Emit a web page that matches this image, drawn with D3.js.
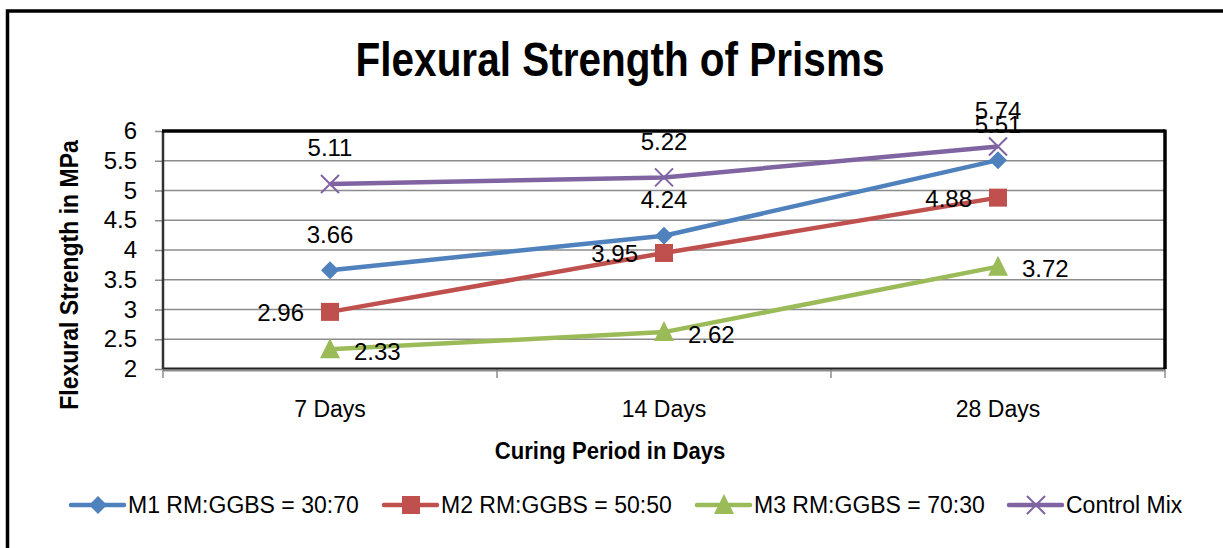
<!DOCTYPE html>
<meta charset="utf-8">
<script src="https://d3js.org/d3.v7.min.js"></script>
<style>
  body { margin: 0; background: #fff; }
  text { font-family: "Liberation Sans", Arial, sans-serif; }
</style>
<div id="my_dataviz"></div>
<script>
    // chart values
    var categories = ["7 Days", "14 Days", "28 Days"];
    var seriesNames = ["M1 RM:GGBS = 30:70", "M2 RM:GGBS = 50:50", "M3 RM:GGBS = 70:30", "Control Mix"];
    var m1 = [3.66, 4.24, 5.51];
    var m2 = [2.96, 3.95, 4.88];
    var m3 = [2.33, 2.62, 3.72];
    var control = [5.11, 5.22, 5.74];
    var yTicks = [2, 2.5, 3, 3.5, 4, 4.5, 5, 5.5, 6];

    var colors = ["#4F81BD", "#C0504D", "#9BBB59", "#8064A2"];
    var symbols = ["diamond", "square", "triangle", "cross"];
    // where each series puts its value label
    var labelPos = ["above", "left", "right", "above"];

    var series = [m1, m2, m3, control].map(function(vals, i) {
      return { name: seriesNames[i], values: vals, color: colors[i], symbol: symbols[i], pos: labelPos[i] };
    });

    var W = 1223, H = 548;
    var margin = {top: 131, right: 58, bottom: 179, left: 163},
        width = W - margin.left - margin.right,
        height = H - margin.top - margin.bottom;

    var root = d3.select("#my_dataviz")
      .append("svg")
        .attr("width", W)
        .attr("height", H);

    // outer frame (right/bottom edges fall outside the picture)
    root.append("rect")
        .attr("x", 7.5).attr("y", 11)
        .attr("width", 1240).attr("height", 560)
        .attr("fill", "none")
        .attr("stroke", "#000")
        .attr("stroke-width", 3.5);

    // title
    root.append("text")
        .attr("transform", "translate(620,76) scale(0.9,1.05)")
        .attr("text-anchor", "middle")
        .style("font-size", "45px")
        .style("font-weight", "bold")
        .text("Flexural Strength of Prisms");

    var svg = root.append("g")
        .attr("transform", "translate(" + margin.left + "," + margin.top + ")");

    var x = d3.scaleBand()
      .domain(categories)
      .range([0, width]);

    var y = d3.scaleLinear()
      .domain([2, 6])
      .range([height, 0]);

    // gridlines
    svg.append("g")
      .selectAll("line")
      .data(yTicks.slice(1, -1))
      .enter()
      .append("line")
        .attr("x1", 0).attr("x2", width)
        .attr("y1", function(d) { return y(d); })
        .attr("y2", function(d) { return y(d); })
        .attr("stroke", "#8c8c8c")
        .attr("stroke-width", 1.5);

    // y axis
    var yAxis = svg.append("g")
      .call(d3.axisLeft(y).tickValues(yTicks).tickSize(8).tickPadding(18).tickFormat(d3.format("")));
    yAxis.select(".domain").remove();
    yAxis.selectAll(".tick line").attr("stroke", "#8c8c8c").attr("stroke-width", 1.5);
    yAxis.selectAll("text")
      .style("font-size", "24px")
      .attr("fill", "#000")
      .attr("font-family", null);

    // x axis
    var xAxis = svg.append("g")
      .attr("transform", "translate(0," + height + ")")
      .call(d3.axisBottom(x).tickSize(0).tickPadding(32));
    xAxis.select(".domain").remove();
    xAxis.selectAll("text")
      .style("font-size", "23px")
      .attr("fill", "#000")
      .attr("font-family", null);

    // category boundary ticks
    svg.append("g")
      .selectAll("line")
      .data(categories.concat([null]))
      .enter()
      .append("line")
        .attr("x1", function(d) { return d === null ? width : x(d); })
        .attr("x2", function(d) { return d === null ? width : x(d); })
        .attr("y1", height).attr("y2", height + 9)
        .attr("stroke", "#8c8c8c")
        .attr("stroke-width", 1.5);

    // plot borders
    svg.append("line")
      .attr("x1", 0).attr("x2", width).attr("y1", height + 1.5).attr("y2", height + 1.5)
      .attr("stroke", "#8c8c8c").attr("stroke-width", 2);
    svg.append("line")
      .attr("x1", 0).attr("x2", width).attr("y1", height - 0.5).attr("y2", height - 0.5)
      .attr("stroke", "#222").attr("stroke-width", 2);
    svg.append("line")
      .attr("x1", 0).attr("x2", 0).attr("y1", 0).attr("y2", height)
      .attr("stroke", "#333").attr("stroke-width", 2.5);
    svg.append("line")
      .attr("x1", -1).attr("x2", width).attr("y1", 0).attr("y2", 0)
      .attr("stroke", "#000").attr("stroke-width", 3.5);
    svg.append("line")
      .attr("x1", width).attr("x2", width).attr("y1", -1.5).attr("y2", height)
      .attr("stroke", "#000").attr("stroke-width", 3.5);

    // axis titles
    root.append("text")
      .attr("transform", "translate(610,459) scale(0.92,1)")
      .attr("text-anchor", "middle")
      .style("font-size", "24px")
      .style("font-weight", "bold")
      .text("Curing Period in Days");

    root.append("text")
      .attr("transform", "translate(78,275) rotate(-90) scale(0.92,1)")
      .attr("text-anchor", "middle")
      .style("font-size", "25px")
      .style("font-weight", "bold")
      .text("Flexural Strength in MPa");

    function drawMarker(g, s) {
      if (s.symbol === "diamond") {
        g.append("path").attr("d", "M0,-9L9,0L0,9L-9,0Z").attr("fill", s.color);
      } else if (s.symbol === "square") {
        g.append("rect").attr("x", -9).attr("y", -9).attr("width", 18).attr("height", 18).attr("fill", s.color);
      } else if (s.symbol === "triangle") {
        g.append("path").attr("d", "M0,-11L10,9L-10,9Z").attr("fill", s.color);
      } else {
        g.append("path").attr("d", "M-9,-9L9,9M-9,9L9,-9")
          .attr("stroke", s.color).attr("stroke-width", 2).attr("fill", "none");
      }
    }

    var cx = function(i) { return x(categories[i]) + x.bandwidth() / 2; };

    // lines
    var line = d3.line()
      .x(function(d, i) { return cx(i); })
      .y(function(d) { return y(d); });

    series.forEach(function(s) {
      svg.append("path")
        .datum(s.values)
        .attr("d", line)
        .attr("fill", "none")
        .attr("stroke", s.color)
        .attr("stroke-width", 4.5)
        .attr("stroke-linejoin", "round");
    });

    // markers
    series.forEach(function(s) {
      s.values.forEach(function(v, i) {
        var g = svg.append("g").attr("transform", "translate(" + cx(i) + "," + y(v) + ")");
        drawMarker(g, s);
      });
    });

    // value labels
    series.forEach(function(s) {
      s.values.forEach(function(v, i) {
        var px = cx(i), py = y(v);
        var t = svg.append("text")
          .style("font-size", "24px")
          .attr("dominant-baseline", "central")
          .text(v.toFixed(2));
        if (s.pos === "above") {
          t.attr("x", px).attr("y", py - 36).attr("text-anchor", "middle");
        } else if (s.pos === "left") {
          t.attr("x", px - 26).attr("y", py + 1).attr("text-anchor", "end");
        } else {
          t.attr("x", px + 24).attr("y", py + 2).attr("text-anchor", "start");
        }
      });
    });

    // legend
    var legendX = [71, 384, 697, 1009];
    series.forEach(function(s, i) {
      var g = root.append("g").attr("transform", "translate(" + legendX[i] + ",505)");
      g.append("line")
        .attr("x1", 0).attr("x2", 53).attr("y1", 0).attr("y2", 0)
        .attr("stroke", s.color).attr("stroke-width", 4.5)
        .attr("stroke-linecap", "round");
      var m = g.append("g").attr("transform", "translate(27,0)");
      drawMarker(m, s);
      g.append("text")
        .attr("x", 57).attr("y", 0)
        .attr("dominant-baseline", "central")
        .style("font-size", "23px")
        .text(s.name);
    });
</script>
